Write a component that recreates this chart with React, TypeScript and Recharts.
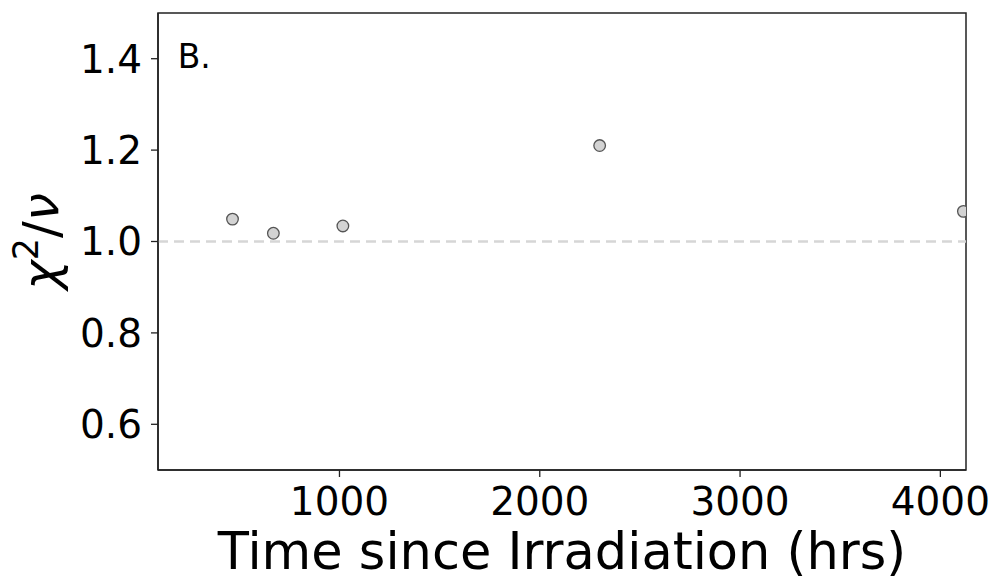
import React from "react";
import {
  ScatterChart,
  Scatter,
  XAxis,
  YAxis,
  ReferenceLine,
  ReferenceArea,
  ReferenceDot,
} from "recharts";

const times = [466, 670, 1017, 2299, 4115];
const chi2 = [1.049, 1.018, 1.034, 1.21, 1.066];
const xTicks = [1000, 2000, 3000, 4000];
const yTicks = [0.6, 0.8, 1.0, 1.2, 1.4];
const xDomain = [94, 4128];
const yDomain = [0.5, 1.5];
const panelLabel = "B.";
const xLabel = "Time since Irradiation (hrs)";

const data = times.map((t, i) => ({ x: t, y: chi2[i] }));

const FONT = "DejaVu Sans";

const YLabel = (props: any) => {
  const vb = props.viewBox || {};
  const x = vb.x + 50;
  const y = vb.y + vb.height / 2;
  return (
    <text
      x={x}
      y={y}
      transform={`rotate(-90, ${x}, ${y})`}
      textAnchor="middle"
      fontFamily={FONT}
      fontSize={50}
      fill="#000"
    >
      <tspan fontStyle="italic">χ</tspan>
      <tspan fontSize={35} dy={-20}>2</tspan>
      <tspan dy={20}>/</tspan>
      <tspan fontStyle="italic">ν</tspan>
    </text>
  );
};

export default function App() {
  return (
    <ScatterChart
      width={983}
      height={576}
      margin={{ top: 5, right: 25, left: 0, bottom: 0 }}
      style={{ overflow: "visible" }}
    >
      <XAxis
        type="number"
        dataKey="x"
        domain={xDomain}
        ticks={xTicks}
        allowDataOverflow
        height={114}
        tickSize={7}
        tickMargin={10}
        tick={{ fontFamily: FONT, fontSize: 39, fill: "#000" }}
        axisLine={{ stroke: "#222", strokeWidth: 1.5 }}
        tickLine={{ stroke: "#222", strokeWidth: 1.3 }}
        label={{
          value: xLabel,
          position: "insideBottom",
          offset: 15,
          fontFamily: FONT,
          fontSize: 51,
          fill: "#000",
        }}
      />
      <YAxis
        type="number"
        dataKey="y"
        domain={yDomain}
        ticks={yTicks}
        allowDataOverflow
        width={150}
        tickSize={7}
        tickMargin={9}
        tickFormatter={(v: number) => v.toFixed(1)}
        tick={{ fontFamily: FONT, fontSize: 39, fill: "#000" }}
        axisLine={{ stroke: "#222", strokeWidth: 1.5 }}
        tickLine={{ stroke: "#222", strokeWidth: 1.3 }}
        label={{ content: YLabel }}
      />
      <ReferenceArea
        x1={xDomain[0]}
        x2={xDomain[1]}
        y1={yDomain[0]}
        y2={yDomain[1]}
        fill="none"
        stroke="#222"
        strokeWidth={1.5}
        ifOverflow="visible"
      />
      <ReferenceLine
        y={1.0}
        stroke="#d6d6d6"
        strokeWidth={2.5}
        strokeDasharray="10 6"
      />
      <ReferenceDot
        x={192}
        y={1.38}
        r={1}
        ifOverflow="visible"
        shape={(p: any) => (
          <text
            x={p.cx}
            y={p.cy}
            fontFamily={FONT}
            fontSize={33}
            fill="#000"
          >
            {panelLabel}
          </text>
        )}
      />
      <Scatter
        data={data}
        isAnimationActive={false}
        fill="#d3d3d3"
        stroke="#555"
        strokeWidth={1.2}
        shape={(p: any) => (
          <circle
            cx={p.cx}
            cy={p.cy}
            r={5.8}
            fill="#d3d3d3"
            stroke="#555"
            strokeWidth={1.3}
          />
        )}
      />
    </ScatterChart>
  );
}
